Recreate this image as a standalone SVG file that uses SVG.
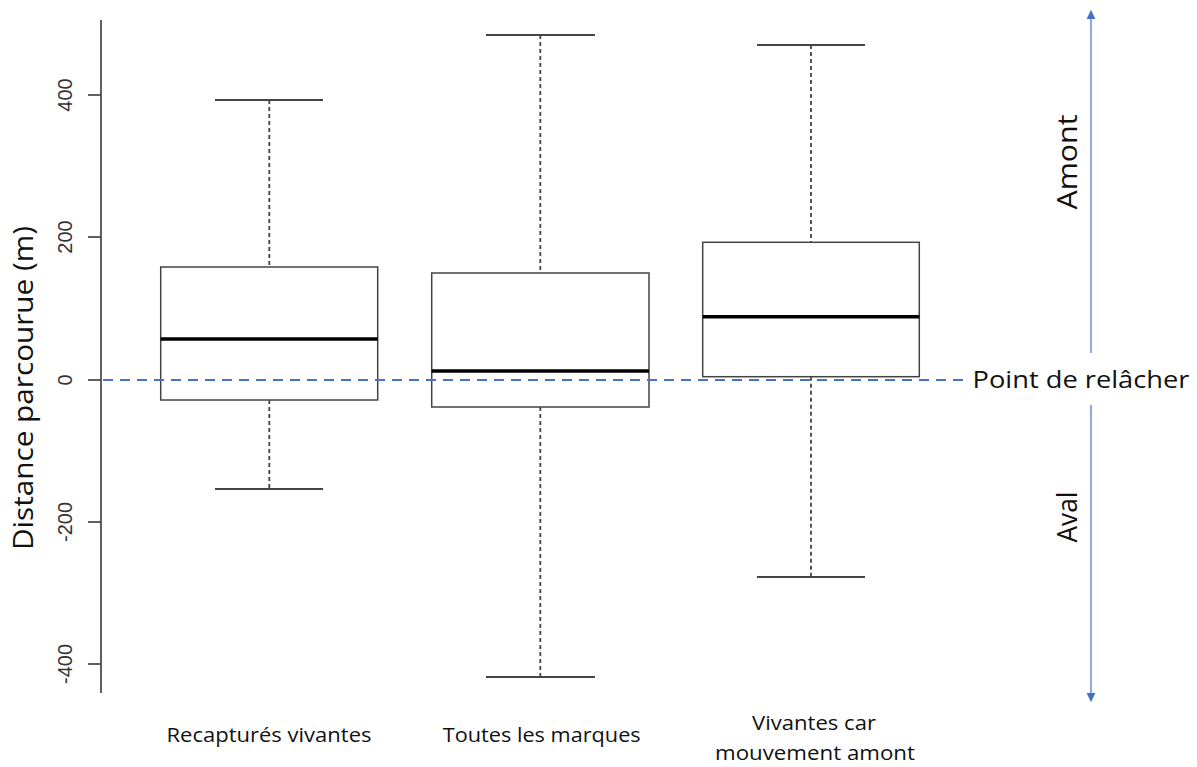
<svg xmlns="http://www.w3.org/2000/svg" width="1197" height="767" viewBox="0 0 1197 767">
<style>
.box{fill:none;stroke:#444;stroke-width:1.5}
.med{stroke:#000;stroke-width:3.5}
.whisk{stroke:#444;stroke-width:1.8;stroke-dasharray:4 3}
.cap{stroke:#444;stroke-width:1.8}
.axis{stroke:#444;stroke-width:1.7;fill:none}
.tick{font-family:"Liberation Sans",Arial,sans-serif;font-size:20px;fill:#333;text-anchor:middle}
.lab{font-family:"Open Sans","Noto Sans",sans-serif;fill:#111;text-anchor:middle}
.ref{stroke:#4472C4;stroke-width:2;stroke-dasharray:10 7}
.arr{stroke:#7095D6;stroke-width:1.6}
</style>
<defs>
<marker id="ah" viewBox="0 0 10 10" refX="9" refY="5" markerWidth="9" markerHeight="9" markerUnits="userSpaceOnUse" orient="auto">
<path d="M0,0 L10,5 L0,10 z" fill="#4472C4"/>
</marker>
</defs>
<rect width="1197" height="767" fill="#fff"/>
<g id="axis">
<line class="axis" x1="101" y1="20" x2="101" y2="693"/>
<line class="axis" x1="88" y1="95" x2="101" y2="95"/>
<line class="axis" x1="88" y1="237" x2="101" y2="237"/>
<line class="axis" x1="88" y1="380" x2="101" y2="380"/>
<line class="axis" x1="88" y1="522" x2="101" y2="522"/>
<line class="axis" x1="88" y1="664" x2="101" y2="664"/>
<text class="tick" transform="translate(72,95) rotate(-90)">400</text>
<text class="tick" transform="translate(72,237) rotate(-90)">200</text>
<text class="tick" transform="translate(72,380) rotate(-90)">0</text>
<text class="tick" transform="translate(72,522) rotate(-90)">-200</text>
<text class="tick" transform="translate(72,664) rotate(-90)">-400</text>
<text class="lab" font-size="28" transform="translate(33,388) rotate(-90)" textLength="324" lengthAdjust="spacingAndGlyphs">Distance parcourue (m)</text>
</g>
<g id="box1">
<line class="whisk" x1="269.3" y1="100" x2="269.3" y2="267"/>
<line class="whisk" x1="269.3" y1="400" x2="269.3" y2="489"/>
<line class="cap" x1="215" y1="100" x2="323" y2="100"/>
<line class="cap" x1="215" y1="489" x2="323" y2="489"/>
<rect class="box" x="160.7" y="267" width="217" height="133"/>
<line class="med" x1="160.7" y1="339" x2="377.7" y2="339"/>
<text class="lab" font-size="20" x="269" y="742" textLength="205" lengthAdjust="spacingAndGlyphs">Recapturés vivantes</text>
</g>
<g id="box2">
<line class="whisk" x1="540.3" y1="35" x2="540.3" y2="273"/>
<line class="whisk" x1="540.3" y1="407" x2="540.3" y2="677"/>
<line class="cap" x1="486" y1="35" x2="595" y2="35"/>
<line class="cap" x1="486" y1="677" x2="595" y2="677"/>
<rect class="box" x="431.7" y="273" width="217.3" height="134"/>
<line class="med" x1="431.7" y1="371" x2="649" y2="371"/>
<text class="lab" font-size="20" x="541.7" y="742" textLength="198" lengthAdjust="spacingAndGlyphs">Toutes les marques</text>
</g>
<g id="box3">
<line class="whisk" x1="811" y1="45" x2="811" y2="242.3"/>
<line class="whisk" x1="811" y1="376.7" x2="811" y2="577"/>
<line class="cap" x1="757" y1="45" x2="865" y2="45"/>
<line class="cap" x1="757" y1="577" x2="865" y2="577"/>
<rect class="box" x="702.7" y="242.3" width="216.6" height="134.4"/>
<line class="med" x1="702.7" y1="316.7" x2="919.3" y2="316.7"/>
<text class="lab" font-size="20" x="814" y="730" textLength="124" lengthAdjust="spacingAndGlyphs">Vivantes car</text>
<text class="lab" font-size="20" x="815" y="760" textLength="200" lengthAdjust="spacingAndGlyphs">mouvement amont</text>
</g>
<g id="connectors">
<line class="ref" x1="103" y1="380" x2="966" y2="380"/>
<line class="arr" x1="1091" y1="353" x2="1091" y2="11" marker-end="url(#ah)"/>
<line class="arr" x1="1091" y1="405" x2="1091" y2="701" marker-end="url(#ah)"/>
</g>
<g id="labels">
<text class="lab" font-size="24" x="1081" y="388" textLength="217" lengthAdjust="spacingAndGlyphs">Point de relâcher</text>
<text class="lab" font-size="28" transform="translate(1076.7,162) rotate(-90)" textLength="95" lengthAdjust="spacingAndGlyphs">Amont</text>
<text class="lab" font-size="28" transform="translate(1076.7,517) rotate(-90)" textLength="51" lengthAdjust="spacingAndGlyphs">Aval</text>
</g>
</svg>
